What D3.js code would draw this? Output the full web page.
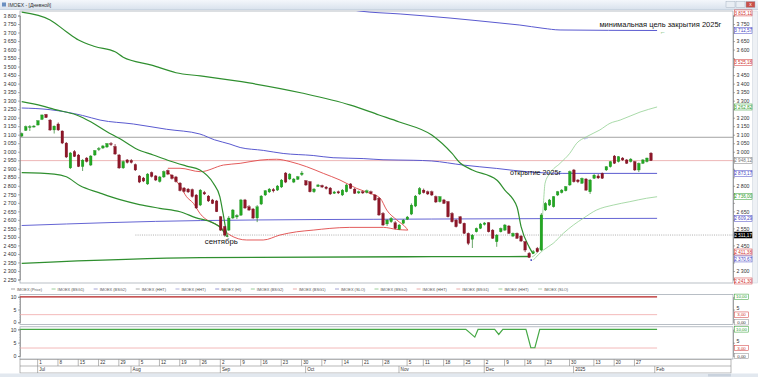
<!DOCTYPE html>
<html><head><meta charset="utf-8">
<script src="https://cdn.jsdelivr.net/npm/d3@7"></script>
<style>html,body{margin:0;padding:0;background:#fff;overflow:hidden}svg{display:block;font-family:"Liberation Sans",Arial,sans-serif}</style>
</head><body><svg id="c" width="758" height="377"></svg>
<script>
// ---------------- DATA ----------------
const dates = [
"2024-06-25","2024-06-26","2024-06-27","2024-06-28",
"2024-07-01","2024-07-02","2024-07-03","2024-07-04","2024-07-05","2024-07-08","2024-07-09","2024-07-10","2024-07-11","2024-07-12","2024-07-15","2024-07-16","2024-07-17","2024-07-18","2024-07-19","2024-07-22","2024-07-23","2024-07-24","2024-07-25","2024-07-26","2024-07-29","2024-07-30","2024-07-31",
"2024-08-01","2024-08-02","2024-08-05","2024-08-06","2024-08-07","2024-08-08","2024-08-09","2024-08-12","2024-08-13","2024-08-14","2024-08-15","2024-08-16","2024-08-19","2024-08-20","2024-08-21","2024-08-22","2024-08-23","2024-08-26","2024-08-27","2024-08-28","2024-08-29","2024-08-30",
"2024-09-02","2024-09-03","2024-09-04","2024-09-05","2024-09-06","2024-09-09","2024-09-10","2024-09-11","2024-09-12","2024-09-13","2024-09-16","2024-09-17","2024-09-18","2024-09-19","2024-09-20","2024-09-23","2024-09-24","2024-09-25","2024-09-26","2024-09-27","2024-09-30",
"2024-10-01","2024-10-02","2024-10-03","2024-10-04","2024-10-07","2024-10-08","2024-10-09","2024-10-10","2024-10-11","2024-10-14","2024-10-15","2024-10-16","2024-10-17","2024-10-18","2024-10-21","2024-10-22","2024-10-23","2024-10-24","2024-10-25","2024-10-28","2024-10-29","2024-10-30","2024-10-31",
"2024-11-01","2024-11-02","2024-11-05","2024-11-06","2024-11-07","2024-11-08","2024-11-11","2024-11-12","2024-11-13","2024-11-14","2024-11-15","2024-11-18","2024-11-19","2024-11-20","2024-11-21","2024-11-22","2024-11-25","2024-11-26","2024-11-27","2024-11-28","2024-11-29",
"2024-12-02","2024-12-03","2024-12-04","2024-12-05","2024-12-06","2024-12-09","2024-12-10","2024-12-11","2024-12-12","2024-12-13","2024-12-16","2024-12-17","2024-12-18","2024-12-19","2024-12-20","2024-12-23","2024-12-24","2024-12-25","2024-12-26","2024-12-27","2024-12-28","2024-12-30",
"2025-01-03","2025-01-06","2025-01-08","2025-01-09","2025-01-10","2025-01-13","2025-01-14","2025-01-15","2025-01-16","2025-01-17","2025-01-20","2025-01-21","2025-01-22","2025-01-23","2025-01-24","2025-01-27","2025-01-28","2025-01-29","2025-01-30","2025-01-31"];

const open  = [3092,3125,3142,3145,3157,3190,3219,3186,3128,3163,3122,3051,2905,3001,2981,2913,2963,2922,2981,3013,3022,3028,3048,3031,2981,2905,2952,2949,2925,2858,2846,2811,2878,2858,2825,2852,2890,2863,2852,2816,2787,2781,2778,2746,2687,2761,2740,2717,2711,2618,2560,2540,2611,2617,2628,2717,2677,2664,2611,2693,2746,2764,2778,2775,2793,2875,2840,2822,2838,2866,2830,2824,2765,2796,2802,2793,2787,2756,2765,2746,2765,2811,2781,2758,2765,2761,2765,2746,2727,2638,2576,2589,2583,2545,2580,2603,2634,2681,2752,2775,2765,2765,2737,2707,2717,2707,2638,2599,2618,2580,2521,2486,2530,2550,2573,2583,2540,2472,2530,2540,2564,2505,2521,2505,2472,2404,2404,2433,2423,2658,2687,2677,2746,2760,2771,2805,2893,2834,2815,2840,2765,2844,2858,2873,2893,2912,2975,2942,2963,2952,2942,2942,2893,2932,2942,2992];
const high  = [3113,3154,3157,3157,3186,3219,3222,3192,3154,3172,3125,3057,2998,3010,2987,2957,2969,2981,3010,3028,3040,3051,3057,3045,2987,2949,2957,2957,2931,2863,2852,2875,2884,2863,2858,2890,2896,2869,2858,2822,2793,2787,2784,2752,2781,2770,2746,2723,2717,2623,2564,2623,2664,2634,2723,2723,2687,2670,2687,2746,2775,2787,2787,2805,2840,2881,2875,2846,2858,2887,2834,2828,2787,2811,2807,2799,2793,2770,2772,2781,2811,2816,2787,2772,2772,2778,2772,2752,2734,2646,2605,2617,2593,2576,2605,2623,2697,2746,2793,2784,2772,2772,2743,2740,2723,2711,2646,2605,2623,2584,2526,2517,2555,2582,2587,2587,2546,2517,2555,2576,2570,2526,2526,2511,2476,2411,2423,2441,2640,2705,2723,2740,2770,2781,2799,2890,2899,2840,2849,2846,2840,2869,2869,2878,2916,2946,2981,2975,2969,2957,2963,2946,2937,2957,2966,2998];
const low   = [3087,3122,3122,3142,3154,3186,3198,3122,3107,3122,3045,2963,2899,2969,2910,2887,2937,2916,2975,3004,3016,3022,3034,2981,2899,2899,2931,2931,2887,2816,2822,2805,2849,2828,2819,2846,2863,2837,2819,2767,2761,2758,2731,2664,2681,2746,2705,2693,2646,2535,2502,2535,2605,2605,2623,2664,2652,2605,2587,2687,2740,2758,2761,2770,2787,2816,2834,2816,2834,2858,2799,2761,2758,2793,2787,2778,2746,2752,2752,2740,2761,2781,2752,2752,2752,2755,2749,2711,2623,2564,2564,2582,2545,2540,2576,2599,2628,2675,2746,2755,2746,2740,2699,2702,2693,2614,2584,2555,2576,2517,2452,2435,2526,2546,2567,2526,2488,2442,2526,2535,2517,2499,2488,2470,2411,2376,2400,2408,2417,2652,2681,2672,2740,2755,2767,2799,2819,2816,2811,2770,2752,2840,2840,2840,2887,2907,2928,2937,2946,2928,2937,2887,2881,2928,2937,2946];
const close = [3107,3148,3148,3151,3182,3216,3201,3128,3151,3128,3051,2969,2993,2972,2913,2951,2943,2975,3007,3019,3034,3048,3043,2987,2905,2943,2937,2937,2893,2822,2828,2869,2855,2834,2852,2884,2869,2843,2825,2772,2767,2764,2737,2670,2775,2752,2711,2696,2648,2540,2511,2611,2658,2626,2717,2670,2658,2611,2677,2740,2771,2781,2770,2799,2834,2822,2869,2840,2853,2875,2805,2765,2781,2805,2793,2784,2752,2764,2758,2775,2805,2785,2756,2765,2758,2771,2755,2717,2629,2570,2599,2609,2550,2570,2599,2617,2687,2740,2784,2760,2752,2746,2705,2736,2697,2618,2589,2560,2580,2521,2462,2511,2550,2576,2582,2530,2492,2511,2550,2570,2521,2521,2492,2476,2423,2380,2413,2413,2629,2697,2717,2736,2765,2775,2795,2884,2824,2824,2844,2775,2834,2863,2846,2844,2912,2942,2932,2971,2952,2932,2957,2893,2932,2952,2963,2948];

// overlay lines: [trading-day index, price]
const bsgUpper  = [[0,3820],[7,3774],[11,3705],[14,3656],[18,3618],[23,3587],[25,3555],[32,3509],[38,3464],[44,3445],[56,3404],[69,3345],[81,3274],[88,3216],[93,3175],[101,3098],[106,2990],[108,2934],[111,2893],[117,2834],[119,2775],[122,2676],[123,2560],[125,2440],[126,2400]];
const bsgMiddle = [[0,3294],[5,3269],[8,3249],[13.5,3216],[17,3176],[21,3118],[24,3079],[28.3,3016],[32.4,2981],[36.5,2946],[40.6,2916],[43.9,2893],[47.2,2815],[48.8,2736],[49.6,2638],[50.5,2521],[50.8,2499]];
const bsgLower  = [[0,2877],[8,2869],[11,2853],[14.4,2800],[19,2760],[24,2720],[29,2690],[34,2668],[39,2648],[43,2612],[47,2584],[49.3,2546],[50.5,2501]];
const bsgFloor  = [[0,2345],[44,2378],[101,2384],[125,2385]];
const newUpper  = [[125.7,2382],[127.7,2442],[128.5,2697],[128.9,2815],[130.1,2873],[132.6,2932],[135,2991],[136.7,3050],[139.1,3088],[142.4,3128],[144.9,3167],[147.4,3186],[152.3,3233],[156.5,3263]];
const newLower  = [[126,2364],[128.5,2423],[130.9,2462],[133.4,2521],[135.9,2570],[138.3,2609],[141.6,2658],[145.7,2687],[149.8,2707],[153.9,2727],[156.5,2736]];
const blueMid   = [[0,3257],[7,3247],[15,3213],[19.3,3186],[27.5,3163],[35.7,3132],[43.9,3104],[47.5,3070],[51.3,3045],[53.8,3025],[59.5,3008],[64.4,2990],[71.8,2978],[76.7,2965],[84.1,2960],[89,2953],[96.4,2950],[101,2946],[108.7,2922],[117,2902],[125.2,2881],[133.3,2873],[156.5,2873]];
const blueTop   = [[80.5,3836],[83.3,3826],[93.2,3809],[105.5,3785],[117.8,3756],[122.7,3744],[128.4,3725],[132.6,3715],[156.5,3712]];
const blueLow   = [[0,2567],[44,2596],[101,2605],[156.5,2609]];
const envUpper  = [[36,2903],[39,2903],[44,2883],[49.7,2922],[53.8,2932],[58.7,2951],[62.8,2956],[66.1,2942],[70.2,2912],[74.3,2873],[78.4,2834],[82.5,2785],[85.8,2756],[88.3,2727],[89.9,2658],[92.4,2599],[94.8,2550],[95.1,2540]];
const envLower  = [[36,2880],[39,2800],[40.6,2736],[42.3,2697],[43.9,2638],[48.8,2560],[51.3,2511],[55.4,2482],[59.5,2482],[63.6,2511],[67.7,2530],[71.8,2540],[75.9,2550],[80.8,2556],[89.1,2556],[92.4,2544],[95.1,2540]];
const levelGray = 3085, levelLast = 2948, levelDotted = 2511, dottedStart = 28;

// sub panels
const subLevels = [10, 3];
const signal2 = [[-0.4,10],[109.4,10],[111.6,7.1],[112.4,10],[116.5,10],[117.5,8.1],[118.5,10],[124.2,10],[125.4,3.1],[126.4,3.1],[127.6,10],[156.5,10]];

// price ticks & right-hand value markers
const priceTicks = d3.range(2250, 3801, 50);
const markerValues = [3815.11,3712.57,3525.18,3262.82,2948.12,2873.17,2736.00,2609.29,2511.17,2411.38,2370.67,2241.30];
const markerColors = ["#d03030","#4444c4","#d03030","#2a9a2a","#7a7a7a","#4444c4","#2a9a2a","#4444c4","#000000","#d03030","#4444c4","#d03030"];

// time axis
const weekTicks = ["2024-07-01","2024-07-08","2024-07-15","2024-07-22","2024-07-29","2024-08-05","2024-08-12","2024-08-19","2024-08-26","2024-09-02","2024-09-09","2024-09-16","2024-09-23","2024-09-30","2024-10-07","2024-10-14","2024-10-21","2024-10-28","2024-11-05","2024-11-11","2024-11-18","2024-11-25","2024-12-02","2024-12-09","2024-12-16","2024-12-23","2024-12-30","2025-01-13","2025-01-20","2025-01-27"];
const monthTicks = ["2024-07-01","2024-08-01","2024-09-02","2024-10-01","2024-11-01","2024-12-02","2025-01-03"];
const monthLabels = ["Jul","Aug","Sep","Oct","Nov","Dec","2025","Feb"];

const legendNames  = ["IMOEX (Price)","IMOEX (BSG1)","IMOEX (BSG2)","IMOEX (HHT)","IMOEX (HHT)","IMOEX (HI)","IMOEX (BSG2)","IMOEX (BSG1)","IMOEX (SLO)","IMOEX (BSG2)","IMOEX (HHT)","IMOEX (BSG1)","IMOEX (HHT)","IMOEX (SLO)"];
const legendColors = ["#9a9a9a","#8fc88f","#9a9ad0","#a0a0a0","#a8a8d8","#8c8cd0","#8fc88f","#e8a0a0","#9a9ad0","#8fc88f","#e8a0a0","#e8a0a0","#8fc88f","#a8c8a8"];

const notes = [
  {text:"минимальная цель закрытия 2025г", i:142.3, v:3735, w:122},
  {text:"открытие 2025г", i:120.3, v:2866, w:51},
  {text:"сентябрь", i:45.1, v:2458, w:33}
];
const arrows = [
  {ch:"←", i:157.9, v:3706, color:"#2a9a2a"},
  {ch:"→", i:135.2, v:2880, color:"#2a9a2a"},
  {ch:"←", i:139.0, v:3080, color:"#4444c4"}
];

// ---------------- LAYOUT ----------------
const PL = 20, PR = 733, PT = 11, PB = 283;
const svg = d3.select("#c");
const x = d3.scaleLinear().domain([0, 155]).range([21.7, 651.0]);
const y = d3.scaleLinear().domain([2250, 3800]).range([279.5, 15.5]);
const ys1 = d3.scaleLinear().domain([0, 10]).range([322.3, 296.8]);
const ys2 = d3.scaleLinear().domain([0, 10]).range([356.0, 329.4]);
const idx = new Map(dates.map((d, i) => [d, i]));
const loc = d3.formatLocale({decimal:",", thousands:" ", grouping:[3], currency:["",""]});
const fTick = loc.format(",d"), fVal = loc.format(",.2f");

const defs = svg.append("defs");
const gr = defs.append("linearGradient").attr("id","tb").attr("x1",0).attr("y1",0).attr("x2",0).attr("y2",1);
gr.append("stop").attr("offset",0).attr("stop-color","#f4f7fb");
gr.append("stop").attr("offset",1).attr("stop-color","#d9e2ed");
defs.append("clipPath").attr("id","cm").append("rect").attr("x",PL).attr("y",PT).attr("width",PR-PL).attr("height",PB-PT);

svg.append("rect").attr("width",758).attr("height",377).attr("fill","#fff");
// title bar
svg.append("rect").attr("x",0).attr("y",0).attr("width",758).attr("height",9.5).attr("fill","url(#tb)");
svg.append("line").attr("x1",0).attr("x2",758).attr("y1",9.5).attr("y2",9.5).attr("stroke","#b4c2d3").attr("stroke-width",0.6);
svg.append("rect").attr("x",2).attr("y",2.5).attr("width",4).attr("height",4).attr("fill","#6b8fc0");
svg.append("text").attr("x",8).attr("y",7).attr("font-size",5).attr("fill","#333").text("IMOEX - [Дневной]");
[[726,"#e9eef4"],[736,"#e9eef4"],[746,"#c9504a"]].forEach(([bx,c])=>{
  svg.append("rect").attr("x",bx).attr("y",1.5).attr("width",9).attr("height",6).attr("fill",c).attr("stroke","#9aa8b8").attr("stroke-width",0.4);
});
svg.append("text").attr("x",750.5).attr("y",6.4).attr("text-anchor","middle").attr("font-size",5).attr("fill","#fff").text("x");

// main plot frame
svg.append("rect").attr("x",PL).attr("y",PT).attr("width",PR-PL).attr("height",PB-PT).attr("fill","#fff").attr("stroke","#9aa3ad").attr("stroke-width",0.7);
// right scrollbar
svg.append("rect").attr("x",752.5).attr("y",PT).attr("width",5).attr("height",PB-PT).attr("fill","#eef1f5").attr("stroke","#c8d0da").attr("stroke-width",0.5);

const plot = svg.append("g").attr("clip-path","url(#cm)");
function hline(v, color, w, dash, x1) {
  plot.append("line").attr("x1",x1 ?? PL).attr("x2",PR).attr("y1",y(v)).attr("y2",y(v))
    .attr("stroke",color).attr("stroke-width",w).attr("stroke-dasharray",dash||null);
}
hline(levelGray, "#8c8c8c", 0.8);
hline(levelLast, "#e9a3a3", 0.8);
hline(levelDotted, "#9a9a9a", 0.8, "1,1.2", x(dottedStart));

const line = d3.line().x(d => x(d[0])).y(d => y(d[1])).curve(d3.curveMonotoneX);
function drawLine(data, color, w) {
  plot.append("path").attr("d", line(data)).attr("fill","none").attr("stroke",color).attr("stroke-width",w).attr("stroke-linejoin","round");
}
drawLine(blueTop, "#5a5ad0", 1);
drawLine(blueMid, "#5a5ad0", 1);
drawLine(blueLow, "#6565d4", 1);
drawLine(envUpper, "#e04848", 0.9);
drawLine(envLower, "#e04848", 0.9);
drawLine(bsgFloor, "#2f8f2f", 1.3);
drawLine(bsgUpper, "#2f8f2f", 1.2);
drawLine(bsgMiddle, "#2f8f2f", 1.2);
drawLine(bsgLower, "#2f8f2f", 1.2);
drawLine(newUpper, "#93d093", 0.8);
drawLine(newLower, "#93d093", 0.8);

// candles
const cand = dates.map((d, i) => ({i, o:open[i], h:high[i], l:low[i], c:close[i]}));
const cg = plot.append("g");
cg.selectAll("line").data(cand).join("line")
  .attr("x1", d => x(d.i)).attr("x2", d => x(d.i)).attr("y1", d => y(d.h)).attr("y2", d => y(d.l))
  .attr("stroke", d => d.c >= d.o ? "#2a7f2a" : "#6e1020").attr("stroke-width",0.7);
cg.selectAll("rect").data(cand).join("rect")
  .attr("x", d => x(d.i) - 1.3).attr("width", 2.6)
  .attr("y", d => y(Math.max(d.o, d.c)))
  .attr("height", d => Math.max(1, Math.abs(y(d.o) - y(d.c))))
  .attr("fill", d => d.c >= d.o ? "#22a822" : "#8e1628")
  .attr("stroke", d => d.c >= d.o ? "#1d8a1d" : "#74101f").attr("stroke-width",0.3);

plot.append("rect").attr("x", x(125.5)-0.8).attr("y", y(2364)-0.8).attr("width",1.6).attr("height",1.6).attr("fill","#4444c4");

// annotations: font size chosen so the natural width matches the picture
notes.forEach(n => {
  const t = svg.append("text").attr("x", x(n.i)).attr("y", y(n.v)).attr("font-size", 8).attr("fill","#111").text(n.text);
  const nat = t.node().getComputedTextLength();
  t.attr("font-size", Math.min(8.5, 8 * n.w / nat));
});
arrows.forEach(a => {
  svg.append("text").attr("x", x(a.i)).attr("y", y(a.v) + 2).attr("font-size", 6).attr("fill", a.color).attr("text-anchor","middle").text(a.ch);
});

// left & right price axes
function styleAxis(g) {
  g.attr("font-size", null).attr("font-family", null);
  g.selectAll("text").attr("font-size", 5.2).attr("fill", "#333");
  g.select(".domain").attr("stroke", "#777").attr("stroke-width", 0.6);
  g.selectAll(".tick line").attr("stroke", "#777").attr("stroke-width", 0.6);
}
svg.append("g").attr("transform",`translate(${PL},0)`).call(d3.axisLeft(y).tickValues(priceTicks).tickFormat(fTick).tickSize(2).tickPadding(1.5)).call(styleAxis);
// right axis: labels hidden where a value marker covers them
const rightTicks = priceTicks.filter(t => markerValues.every(v => Math.abs(y(t) - y(v)) > 6.2));
svg.append("g").attr("transform",`translate(${PR},0)`).call(d3.axisRight(y).tickValues(priceTicks).tickFormat(t => rightTicks.includes(t) ? fTick(t) : "").tickSize(2).tickPadding(1.5)).call(styleAxis);
// minor ticks
const minor = d3.range(2250, 3801, 10);
[PL, PR].forEach((ax, k) => {
  svg.append("g").selectAll("line").data(minor).join("line")
    .attr("x1", ax).attr("x2", k ? ax + 1 : ax - 1).attr("y1", d => y(d)).attr("y2", d => y(d))
    .attr("stroke", "#999").attr("stroke-width", 0.4);
});

// right-hand value markers
const mk = svg.append("g");
markerValues.forEach((v, k) => {
  const c = markerColors[k], yy = y(v), black = c === "#000000";
  mk.append("rect").attr("x", 734.5).attr("y", yy - 3).attr("width", 17.5).attr("height", 6)
    .attr("fill", black ? "#000" : "#fff").attr("stroke", c).attr("stroke-width", 0.5);
  mk.append("text").attr("x", 743.2).attr("y", yy + 1.7).attr("text-anchor","middle").attr("font-size", 4.6)
    .attr("fill", black ? "#fff" : c).text(fVal(v));
});

// legend row
const lg = svg.append("g");
let lx = 11;
legendNames.forEach((n, k) => {
  lg.append("line").attr("x1", lx).attr("x2", lx + 4).attr("y1", 289).attr("y2", 289).attr("stroke", legendColors[k]).attr("stroke-width", 0.9);
  const t = lg.append("text").attr("x", lx + 6).attr("y", 290.6).attr("font-size", 3.9).attr("fill", "#555").text(n);
  lx += 6 + t.node().getComputedTextLength() + 9.5;
});

// sub panels
function subPanel(ys, top, bot) {
  svg.append("rect").attr("x", PL).attr("y", top).attr("width", PR - PL).attr("height", bot - top)
    .attr("fill", "#fff").attr("stroke", "#9aa3ad").attr("stroke-width", 0.7);
  svg.append("g").attr("transform", `translate(${PL},0)`)
    .call(d3.axisLeft(ys).tickValues([0, 5, 10]).tickFormat(d3.format("d")).tickSize(2).tickPadding(1.5)).call(styleAxis);
  svg.append("g").attr("transform", `translate(${PR},0)`)
    .call(d3.axisRight(ys).tickValues([5]).tickFormat(d3.format("d")).tickSize(2).tickPadding(1.5)).call(styleAxis)
    .selectAll("text").attr("dy", "-0.1em");
  svg.append("g").selectAll("line").data(d3.range(0, 10.01, 1)).join("line")
    .attr("x1", PL - 1).attr("x2", PL).attr("y1", d => ys(d)).attr("y2", d => ys(d)).attr("stroke", "#999").attr("stroke-width", 0.4);
}
subPanel(ys1, 294.5, 324.5);
subPanel(ys2, 326.8, 359);
const sline = (ys) => d3.line().x(d => x(d[0])).y(d => ys(d[1]));
svg.append("path").attr("d", sline(ys1)([[-0.4, subLevels[0]], [156.5, subLevels[0]]])).attr("stroke", "#b52020").attr("stroke-width", 1.3).attr("fill", "none");
svg.append("path").attr("d", sline(ys1)([[-0.4, subLevels[1]], [156.5, subLevels[1]]])).attr("stroke", "#f0a8a8").attr("stroke-width", 0.8).attr("fill", "none");
svg.append("path").attr("d", sline(ys2)([[-0.4, subLevels[1]], [156.5, subLevels[1]]])).attr("stroke", "#f0a8a8").attr("stroke-width", 0.8).attr("fill", "none");
svg.append("path").attr("d", sline(ys2)(signal2)).attr("stroke", "#45a845").attr("stroke-width", 1.2).attr("fill", "none");
function subMarker(ys, v, c) {
  svg.append("rect").attr("x", 734.5).attr("y", ys(v) - 2.7).attr("width", 14).attr("height", 5.4).attr("fill", "#fff").attr("stroke", c).attr("stroke-width", 0.5);
  svg.append("text").attr("x", 741.5).attr("y", ys(v) + 1.6).attr("text-anchor", "middle").attr("font-size", 4.4).attr("fill", c === "#888" ? "#333" : c).text(loc.format(",.2f")(v));
}
[ys1, ys2].forEach(ys => { subMarker(ys, 10, "#2a9a2a"); subMarker(ys, 3, "#d03030"); subMarker(ys, 0, "#888"); });

// time axis rows
const r1 = 359.3, r2 = 366, r3 = 373, TR = 731;
svg.append("rect").attr("x", PL).attr("y", r1).attr("width", TR - PL).attr("height", r3 - r1).attr("fill", "#fff").attr("stroke", "#888").attr("stroke-width", 0.6);
svg.append("line").attr("x1", PL).attr("x2", TR).attr("y1", r2).attr("y2", r2).attr("stroke", "#888").attr("stroke-width", 0.6);
const ta = svg.append("g");
weekTicks.forEach(d => {
  const i = idx.get(d), xx = x(i) - 0.3;
  ta.append("line").attr("x1", xx).attr("x2", xx).attr("y1", r1).attr("y2", r2).attr("stroke", "#888").attr("stroke-width", 0.6);
  ta.append("text").attr("x", xx + 1.6).attr("y", r2 - 1.6).attr("font-size", 4.6).attr("fill", "#333").text(+d.slice(8));
});
monthLabels.forEach((m, k) => {
  const i = k < monthTicks.length ? idx.get(monthTicks[k]) : dates.length;
  const xx = x(i) - 0.3;
  ta.append("line").attr("x1", xx).attr("x2", xx).attr("y1", r2).attr("y2", r3).attr("stroke", "#888").attr("stroke-width", 0.6);
  ta.append("text").attr("x", xx + 1.6).attr("y", r3 - 1.8).attr("font-size", 4.6).attr("fill", "#333").text(m);
});
// bottom strip
svg.append("rect").attr("x", 0).attr("y", 373.5).attr("width", 758).attr("height", 3.5).attr("fill", "#e2e8ef");
svg.append("rect").attr("x", 708).attr("y", 374).attr("width", 23).attr("height", 2.5).attr("fill", "#c9d2dd");
</script></body></html>
